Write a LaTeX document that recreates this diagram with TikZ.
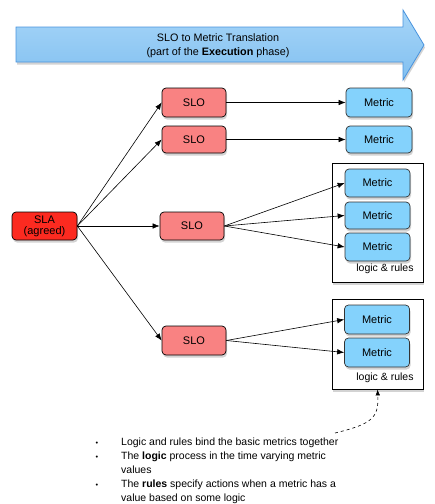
\documentclass[tikz,border=0pt]{standalone}
\usepackage{fontspec}
\setmainfont{Liberation Sans}
\usetikzlibrary{arrows.meta,shadows}

\definecolor{slared}{HTML}{FC2A20}
\definecolor{slopink}{HTML}{F98282}
\definecolor{metricblue}{HTML}{84D2FC}
\definecolor{banntop}{HTML}{A6D5F8}
\definecolor{bannbot}{HTML}{82C0F0}
\definecolor{bannline}{HTML}{4A94DE}

\begin{document}
\begin{tikzpicture}[x=1pt,y=-1pt,
  arr/.style={-{Latex[length=7pt,width=5.5pt]},line width=0.6pt},
  shad/.style={drop shadow={opacity=0.35,shadow xshift=1pt,shadow yshift=-2.5pt}},
  box/.style={draw,line width=0.7pt,rounded corners=4pt,shad,
    minimum width=64pt,minimum height=28pt,inner sep=1pt,
    align=center,font=\fontsize{11}{12}\selectfont},
  slabox/.style={box,fill=slared},
  slobox/.style={box,fill=slopink},
  metric/.style={box,fill=metricblue,draw=black!80,minimum width=65pt},
  group/.style={draw,line width=0.8pt,fill=white,shad,
    minimum width=91pt},
  txt/.style={font=\fontsize{10.5}{14}\selectfont}]
  \useasboundingbox (0,0) rectangle (435,504);

  % Banner arrow
  \path[shad,top color=banntop,bottom color=bannbot,draw=bannline,line width=0.8pt]
    (16,27) -- (403,27) -- (403,10) -- (424,45) -- (403,80) -- (403,62)
    -- (16,62) -- cycle;
  \node[txt,font=\fontsize{10.8}{14}\selectfont,align=center] (title) at (218,45.5)
    {SLO to Metric Translation\\(part of the \textbf{Execution} phase)};

  % Groups of metrics
  \node[group,minimum height=119pt] (grp1) at (377.5,222.5) {};
  \node[group,minimum height=90pt] (grp2) at (377.5,344) {};
  \node[txt] (rules1) at (385,269) {logic \& rules};
  \node[txt] (rules2) at (385,378) {logic \& rules};

  % SLA and SLOs
  \node[slabox,minimum width=65pt] (sla) at (44.5,226) {SLA\\[-1pt](agreed)};
  \node[slobox,minimum height=29pt] (slo1) at (194,102.5) {SLO};
  \node[slobox,minimum height=27pt] (slo2) at (194,139.5) {SLO};
  \node[slobox] (slo3) at (192,226) {SLO};
  \node[slobox,minimum height=29pt] (slo4) at (194,340.5) {SLO};

  % Metrics
  \node[metric,minimum width=66pt,minimum height=29pt] (m1) at (379,102.5) {Metric};
  \node[metric,minimum width=66pt,minimum height=27pt] (m2) at (379,139.5) {Metric};
  \node[metric] (m3) at (377.5,183) {Metric};
  \node[metric,minimum height=27pt] (m4) at (377.5,215.5) {Metric};
  \node[metric] (m5) at (377.5,247) {Metric};
  \node[metric,minimum height=29pt] (m6) at (377,319.5) {Metric};
  \node[metric,minimum height=29pt] (m7) at (377,352.5) {Metric};

  % Connectors
  \foreach \s in {slo1,slo2,slo3,slo4}
    \draw[arr] (sla.east) -- (\s.west);
  \draw[arr] (slo1) -- (m1);
  \draw[arr] (slo2) -- (m2);
  \foreach \m in {m3,m4,m5}
    \draw[arr] (slo3.east) -- (\m.west);
  \foreach \m in {m6,m7}
    \draw[arr] (slo4.east) -- (\m.west);

  % Note
  \coordinate (cmt) at (335,433);
  \draw[-{Latex[length=6pt,width=4.5pt]},dashed,line width=0.6pt]
    (cmt) .. controls (372,424) and (379,418) .. (grp2.south);
  \node[txt,anchor=north west,inner sep=0pt] (notes) at (95.5,435)
    {\begin{tabular}{@{}p{25.5pt}@{}l@{}}
      \scalebox{0.7}{\textbullet} & Logic and rules bind the basic metrics together\\
      \scalebox{0.7}{\textbullet} & The \textbf{logic} process in the time varying metric\\
      & values\\
      \scalebox{0.7}{\textbullet} & The \textbf{rules} specify actions when a metric has a\\
      & value based on some logic
    \end{tabular}};
\end{tikzpicture}
\end{document}
